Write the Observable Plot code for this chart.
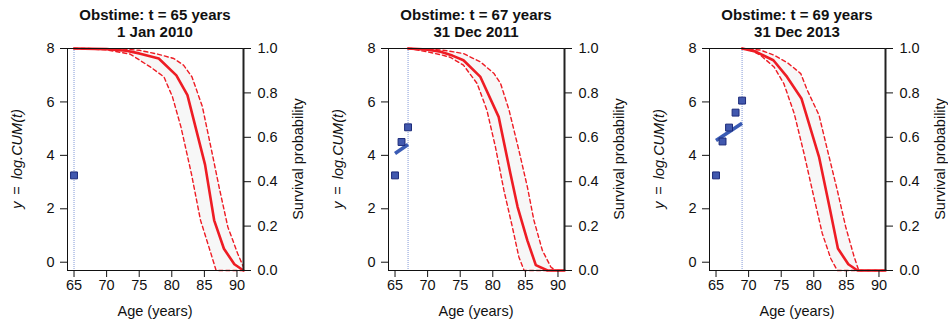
<!DOCTYPE html>
<html>
<head>
<meta charset="utf-8">
<script src="https://cdn.jsdelivr.net/npm/d3@7"></script>
<script src="https://cdn.jsdelivr.net/npm/@observablehq/plot@0.6"></script>
<style>
  html, body { margin: 0; padding: 0; background: #fff; }
  #wrap { position: relative; width: 948px; height: 322px; overflow: hidden; }
  #wrap svg { position: absolute; top: 0; overflow: visible; }
</style>
</head>
<body>
<div id="wrap"></div>
<script>
// ---------------- data ----------------
const obsTimes = [65, 67, 69];
const titleLine1 = ["Obstime: t = 65 years", "Obstime: t = 67 years", "Obstime: t = 69 years"];
const titleLine2 = ["1 Jan 2010", "31 Dec 2011", "31 Dec 2013"];

const xTicks = [65, 70, 75, 80, 85, 90];
const yTicks = [0, 2, 4, 6, 8];
const survTicks = [0, 0.2, 0.4, 0.6, 0.8, 1.0];

// observed log.CUM(t) values
const obsAges1 = [65];
const obsVals1 = [3.25];
const obsAges2 = [65, 66, 67];
const obsVals2 = [3.25, 4.5, 5.05];
const obsAges3 = [65, 66, 67, 68, 69];
const obsVals3 = [3.25, 4.52, 5.04, 5.6, 6.05];

// fitted trajectory segment
const fitAges1 = [];
const fitVals1 = [];
const fitAges2 = [65, 67];
const fitVals2 = [4.07, 4.41];
const fitAges3 = [65, 69];
const fitVals3 = [4.56, 5.2];

// survival curves (mean + lower/upper band)
const survAges1 = [65, 70, 73, 75, 78, 80.7, 82.4, 85.1, 86.5, 88.0, 89.6, 91];
const surv1     = [1, 0.997, 0.99, 0.978, 0.955, 0.879, 0.79, 0.477, 0.226, 0.098, 0.028, 0];
const upperAges1 = [65, 72, 75, 77.8, 80.3, 81.8, 83.1, 84.7, 86.2, 87.3, 88.6, 90.1, 91];
const upper1     = [1, 0.999, 0.992, 0.975, 0.955, 0.925, 0.872, 0.737, 0.527, 0.37, 0.196, 0.077, 0.015];
const lowerAges1 = [65, 70, 73.6, 76.7, 78.8, 80.1, 81.4, 83.0, 84.4, 86.0, 86.8, 91];
const lower1     = [1, 0.994, 0.975, 0.917, 0.872, 0.782, 0.647, 0.437, 0.227, 0.077, 0, 0];

const survAges2 = [67, 70, 72, 73.8, 75.5, 78.1, 80.9, 82.7, 83.8, 85.3, 86.6, 88.4, 91];
const surv2     = [1, 0.995, 0.985, 0.968, 0.947, 0.872, 0.692, 0.437, 0.287, 0.136, 0.024, 0, 0];
const upperAges2 = [67, 70, 73, 75.5, 78.1, 80.2, 81.2, 82.5, 84.0, 85.3, 86.3, 87.6, 88.9, 89.6, 91];
const upper2     = [1, 0.999, 0.99, 0.977, 0.94, 0.887, 0.842, 0.722, 0.542, 0.377, 0.227, 0.091, 0.016, 0, 0];
const lowerAges2 = [67, 70, 72, 73.5, 75.5, 77.6, 79.1, 80.4, 81.7, 83.0, 84.0, 84.8, 91];
const lower2     = [1, 0.985, 0.972, 0.96, 0.925, 0.842, 0.722, 0.557, 0.362, 0.196, 0.061, 0, 0];

const survAges3 = [69, 71, 73.8, 75.9, 78.1, 80.8, 82.4, 83.7, 85.3, 86.7, 91];
const surv3     = [1, 0.987, 0.947, 0.872, 0.775, 0.512, 0.287, 0.099, 0.028, 0, 0];
const upperAges3 = [69, 71.8, 73.9, 76, 78.0, 79.0, 80.8, 82.1, 83.6, 84.9, 86.2, 86.9, 91];
const upper3     = [1, 0.993, 0.97, 0.935, 0.887, 0.812, 0.7, 0.542, 0.362, 0.196, 0.061, 0, 0];
const lowerAges3 = [69, 70.5, 71.8, 73.9, 75.4, 77.0, 78.5, 80.0, 81.3, 82.6, 83.6, 91];
const lower3     = [1, 0.99, 0.97, 0.917, 0.842, 0.707, 0.527, 0.332, 0.167, 0.054, 0, 0];

// ---------------- assembly ----------------
const panels = [
  {obsAges: obsAges1, obsVals: obsVals1, fitAges: fitAges1, fitVals: fitVals1,
   survAges: survAges1, surv: surv1, upperAges: upperAges1, upper: upper1, lowerAges: lowerAges1, lower: lower1},
  {obsAges: obsAges2, obsVals: obsVals2, fitAges: fitAges2, fitVals: fitVals2,
   survAges: survAges2, surv: surv2, upperAges: upperAges2, upper: upper2, lowerAges: lowerAges2, lower: lower2},
  {obsAges: obsAges3, obsVals: obsVals3, fitAges: fitAges3, fitVals: fitVals3,
   survAges: survAges3, surv: surv3, upperAges: upperAges3, upper: upper3, lowerAges: lowerAges3, lower: lower3}
];

const xDomain = [64, 91];
const yDomain = [-0.31, 8];
const sToY = s => yDomain[0] + s * (yDomain[1] - yDomain[0]);
const yToS = y => (y - yDomain[0]) / (yDomain[1] - yDomain[0]);

const RED = "#ee1c24";
const BLUE = "#3a5bb4";
const FONT = "'Liberation Sans', Arial, Helvetica, sans-serif";

const W = 306, H = 322, ML = 67, MR = 63, MT = 48, MB = 52;
const offsets = [0, 321, 642];

const wrap = document.getElementById("wrap");

panels.forEach((p, i) => {
  const pts = (ages, vals) => ages.map((a, k) => ({x: a, y: sToY(vals[k])}));
  const upperPts = pts(p.upperAges, p.upper);
  const lowerPts = pts(p.lowerAges, p.lower);
  const band = upperPts.concat(lowerPts.slice().reverse());
  const survPts = pts(p.survAges, p.surv);
  const obs = p.obsAges.map((a, k) => ({x: a, y: p.obsVals[k]}));
  const fit = p.fitAges.map((a, k) => ({x: a, y: p.fitVals[k]}));

  const chart = Plot.plot({
    width: W, height: H,
    marginLeft: ML, marginRight: MR, marginTop: MT, marginBottom: MB,
    style: {fontFamily: FONT, fontSize: "14.5px", color: "#111", background: "#fff", overflow: "visible"},
    x: {domain: xDomain},
    y: {domain: yDomain},
    marks: [
      Plot.line(band, {x: "x", y: "y", fill: "#f7f7f7", stroke: "none", curve: "linear"}),
      Plot.ruleX([obsTimes[i]], {stroke: "#8ea2da", strokeWidth: 1.1, strokeDasharray: "1,1"}),
      Plot.line(upperPts, {x: "x", y: "y", stroke: RED, strokeWidth: 1.4, strokeDasharray: "4,3"}),
      Plot.line(lowerPts, {x: "x", y: "y", stroke: RED, strokeWidth: 1.4, strokeDasharray: "4,3"}),
      Plot.line(survPts, {x: "x", y: "y", stroke: RED, strokeWidth: 2.6}),
      Plot.line(fit, {x: "x", y: "y", stroke: BLUE, strokeWidth: 3.6, strokeLinecap: "butt"}),
      Plot.dot(obs, {x: "x", y: "y", symbol: "square", r: 3.9, fill: "#4158ae", stroke: "#1d2b7a", strokeWidth: 1}),
      Plot.frame({stroke: "#111", strokeWidth: 1}),
      Plot.ruleX([xDomain[1]], {stroke: "#222", strokeWidth: 2}),
      Plot.axisX(xTicks, {anchor: "bottom", tickSize: 7, tickPadding: 2, label: null}),
      Plot.axisY(yTicks, {anchor: "left", tickSize: 7, tickPadding: 6, label: null}),
      Plot.axisY(survTicks.map(sToY), {anchor: "right", tickSize: 7, tickPadding: 7, label: null,
        tickFormat: v => yToS(v).toFixed(1)})
    ]
  });
  chart.style.left = offsets[i] + "px";
  chart.style.overflow = "visible";

  const svg = d3.select(chart);
  const cx = ML + (W - ML - MR) / 2;
  const cy = MT + (H - MT - MB) / 2;

  svg.append("text").attr("x", cx).attr("y", 20).attr("text-anchor", "middle")
    .attr("font-weight", "bold").attr("font-size", "15px").attr("fill", "#111").text(titleLine1[i]);
  svg.append("text").attr("x", cx).attr("y", 36.7).attr("text-anchor", "middle")
    .attr("font-weight", "bold").attr("font-size", "15px").attr("fill", "#111").text(titleLine2[i]);

  svg.append("text").attr("x", cx).attr("y", 315.5).attr("text-anchor", "middle")
    .attr("font-size", "14.5px").attr("fill", "#111").text("Age (years)");

  const yl = svg.append("text")
    .attr("transform", `translate(22,${cy}) rotate(-90)`)
    .attr("text-anchor", "middle").attr("font-size", "14.5px").attr("fill", "#111");
  yl.append("tspan").attr("font-style", "italic").text("y");
  yl.append("tspan").attr("xml:space", "preserve").text(" \u2009=\u2009 ");
  yl.append("tspan").attr("font-style", "italic").text("log.CUM(t)");

  svg.append("text")
    .attr("transform", `translate(303,${cy}) rotate(-90)`)
    .attr("text-anchor", "middle").attr("font-size", "14.5px").attr("fill", "#111")
    .text("Survival probability");

  wrap.appendChild(chart);
});
</script>
</body>
</html>
